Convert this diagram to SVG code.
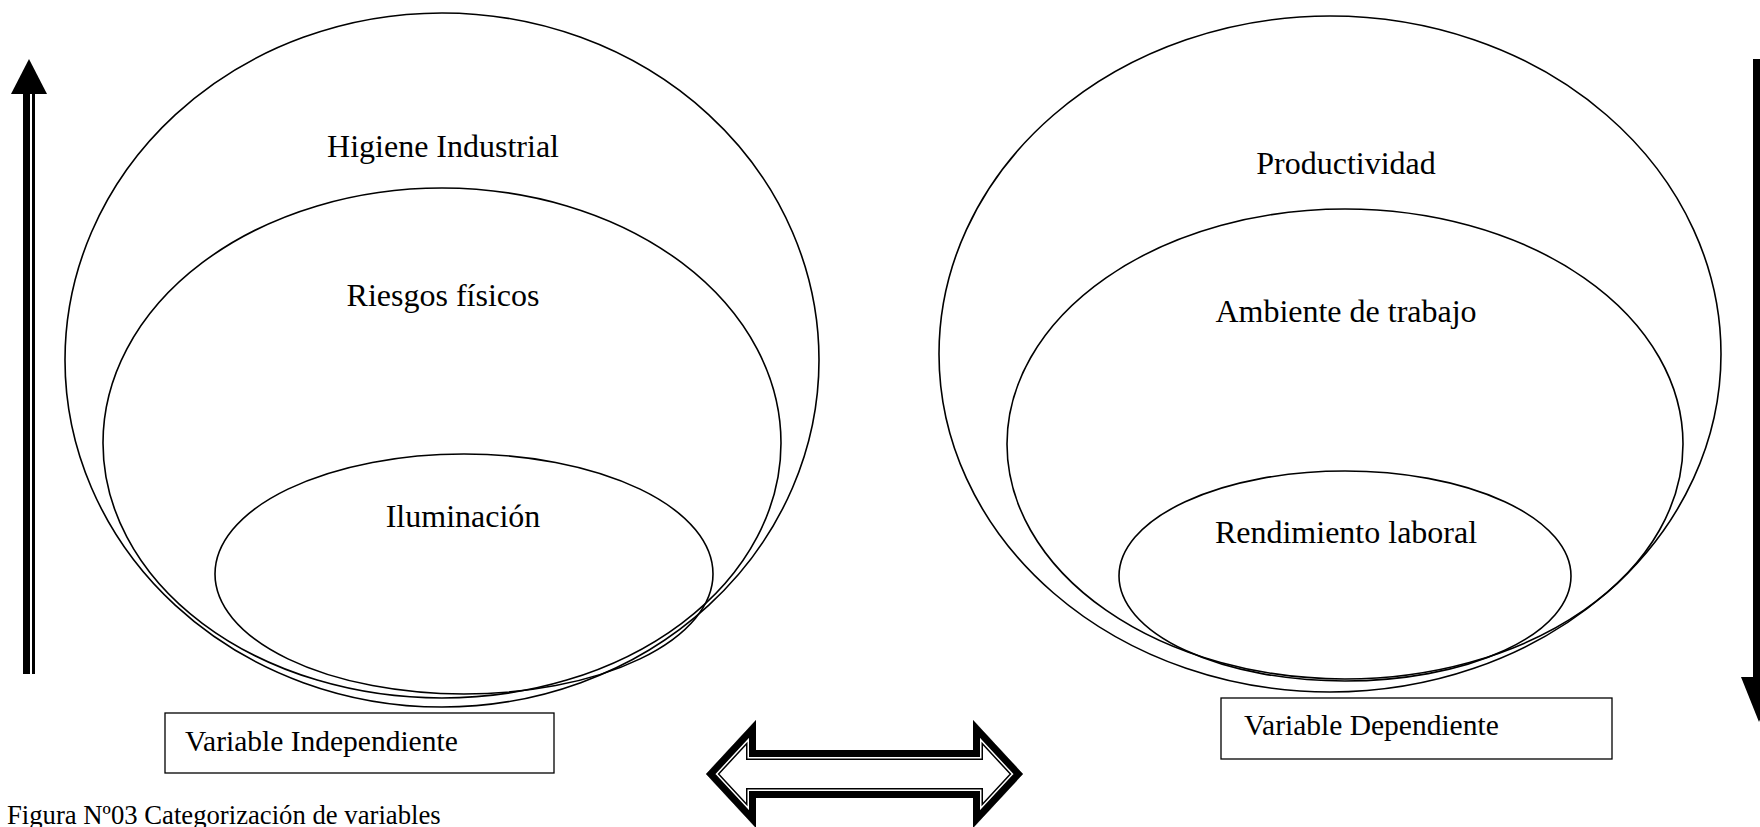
<svg xmlns="http://www.w3.org/2000/svg" width="1760" height="827" viewBox="0 0 1760 827">
  <style>
    .ring { fill: none; stroke: #000; stroke-width: 1.6; }
    .lbl { font-family: "Liberation Serif", "Times New Roman", serif; font-size: 32px; fill: #000; text-anchor: middle; }
    .box { fill: #fff; stroke: #000; stroke-width: 1.3; }
    .boxlbl { font-family: "Liberation Serif", "Times New Roman", serif; font-size: 29.5px; fill: #000; }
    .cap { font-family: "Liberation Serif", "Times New Roman", serif; font-size: 26.7px; fill: #000; }
  </style>
  <defs>
    <polygon id="dbl" points="706,774 756,720 756,750 973,750 973,720 1023,774 973,828 973,798 756,798 756,828"/>
    <clipPath id="dblClip"><use href="#dbl"/></clipPath>
  </defs>
  <rect width="1760" height="827" fill="#fff"/>

  <!-- independent variable nest -->
  <g id="higiene">
    <ellipse class="ring" cx="442" cy="360" rx="377" ry="347"/>
    <text class="lbl" x="443" y="157">Higiene Industrial</text>
  </g>
  <g id="riesgos">
    <ellipse class="ring" cx="442" cy="443" rx="339" ry="255"/>
    <text class="lbl" x="443" y="306">Riesgos físicos</text>
  </g>
  <g id="iluminacion">
    <ellipse class="ring" cx="464" cy="574" rx="249" ry="120"/>
    <text class="lbl" x="463" y="527">Iluminación</text>
  </g>
  <g id="var-indep">
    <rect class="box" x="165" y="713" width="389" height="60"/>
    <text class="boxlbl" x="185" y="751">Variable Independiente</text>
  </g>

  <!-- dependent variable nest -->
  <g id="productividad">
    <ellipse class="ring" cx="1330" cy="354" rx="391" ry="338"/>
    <text class="lbl" x="1346" y="174">Productividad</text>
  </g>
  <g id="ambiente">
    <ellipse class="ring" cx="1345" cy="444" rx="338" ry="235"/>
    <text class="lbl" x="1346" y="322">Ambiente de trabajo</text>
  </g>
  <g id="rendimiento">
    <ellipse class="ring" cx="1345" cy="576" rx="226" ry="105"/>
    <text class="lbl" x="1346" y="543">Rendimiento laboral</text>
  </g>
  <g id="var-dep">
    <rect class="box" x="1221" y="698" width="391" height="61"/>
    <text class="boxlbl" x="1244" y="735">Variable Dependiente</text>
  </g>

  <!-- arrows -->
  <g id="connectors">
    <!-- upward arrow, left margin -->
    <polygon points="29,59 11,94 47,94" fill="#000"/>
    <rect x="23" y="93" width="7" height="581" fill="#000"/>
    <rect x="32" y="93" width="3" height="581" fill="#000"/>
    <!-- downward arrow, right margin -->
    <rect x="1753" y="59" width="14" height="619" fill="#000"/>
    <polygon points="1741,677 1777,677 1759,722" fill="#000"/>
    <!-- two-way block arrow between the variables -->
    <g clip-path="url(#dblClip)">
      <use href="#dbl" fill="#fff" stroke="#000" stroke-width="20" stroke-linejoin="miter"/>
      <use href="#dbl" fill="none" stroke="#fff" stroke-width="17" stroke-linejoin="miter"/>
      <use href="#dbl" fill="none" stroke="#000" stroke-width="14" stroke-linejoin="miter"/>
    </g>
  </g>

  <text class="cap" x="7" y="824">Figura Nº03 Categorización de variables</text>
</svg>
